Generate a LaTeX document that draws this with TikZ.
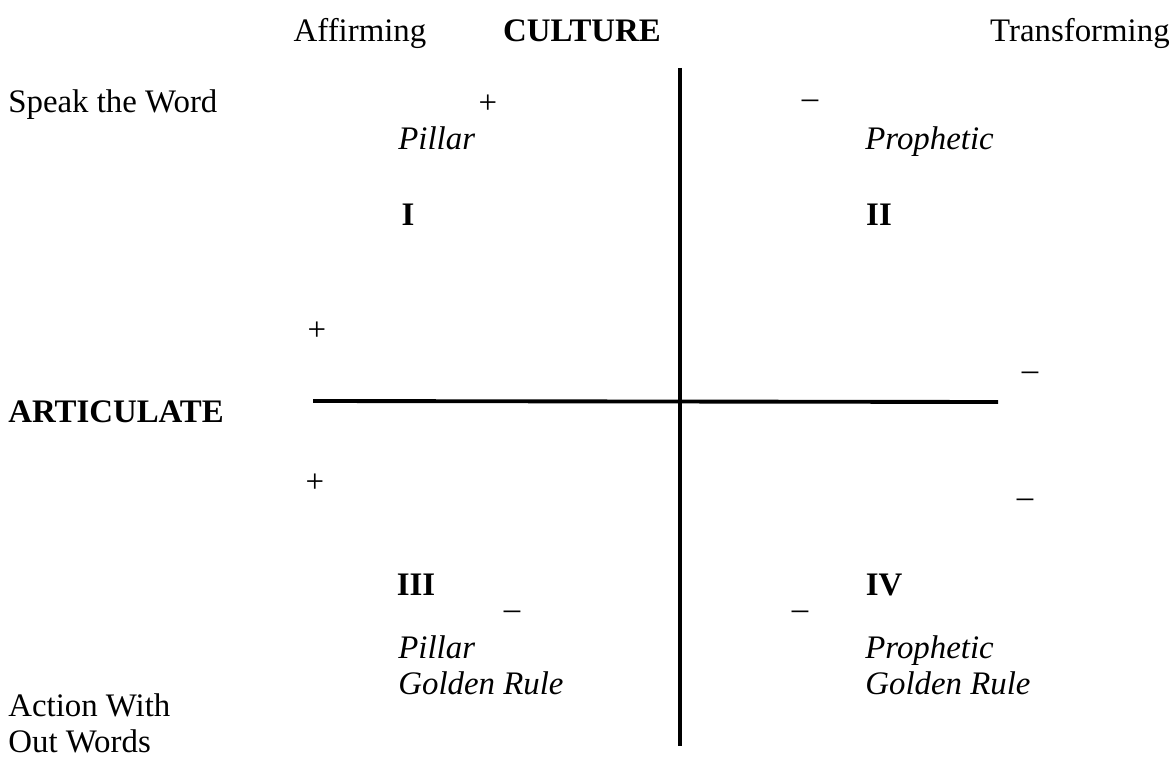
\documentclass[tikz,border=0pt]{standalone}
\usepackage{fontspec}
\setmainfont{Liberation Serif}
\tikzset{
  lbl/.style={anchor=west,inner sep=0pt,font=\fontsize{18.7}{22}\selectfont},
  head/.style={anchor=base,inner sep=0pt,font=\fontsize{18.7}{22}\selectfont},
  quad/.style={inner sep=0pt,font=\fontsize{18.7}{22}\selectfont\bfseries},
  kind/.style={anchor=base west,inner sep=0pt,font=\fontsize{18.7}{22}\selectfont\itshape},
  sgn/.style={inner sep=0pt,font=\fontsize{18.7}{22}\selectfont},
  axis/.style={line width=2.2pt}
}
\begin{document}
\begin{tikzpicture}[x=0.02cm,y=-0.02cm]
    \useasboundingbox (0,0) rectangle (1172,760);

    % Axes of the grid
    \coordinate (top) at (680,68);
    \coordinate (bottom) at (680,746);
    \coordinate (left) at (313,401);
    \coordinate (right) at (998,402);
    \draw[axis] (top) -- (bottom);
    \draw[axis] (left) -- (right);

    % Headings
    \node[head] (affirming) at (360,42) {Affirming};
    \node[head,font=\fontsize{18.7}{22}\selectfont\bfseries] (culture) at (582,42) {CULTURE};
    \node[head,anchor=base east] (transforming) at (1170,42) {Transforming};
    \node[lbl] (speak) at (8,105) {Speak the Word};
    \node[lbl,font=\fontsize{18.7}{22}\selectfont\bfseries] (articulate) at (8,412) {ARTICULATE};
    \node[lbl] (action) at (8,705) {Action With};
    \node[lbl] (outwords) at (8,741) {Out Words};

    % Quadrant names
    \node[kind] (pillar) at (398,150) {Pillar};
    \node[kind] (prophetic) at (865,150) {Prophetic};
    \node[kind] (pillarb) at (398,658) {Pillar};
    \node[kind] (goldena) at (398,694) {Golden Rule};
    \node[kind] (propheticb) at (865,658) {Prophetic};
    \node[kind] (goldenb) at (865,694) {Golden Rule};

    % Quadrant numbers
    \node[quad] (one) at (408,215) {I};
    \node[quad] (two) at (879,215) {II};
    \node[quad] (three) at (416,585) {III};
    \node[quad] (four) at (884,585) {IV};

    % Signs
    \node[sgn] (p1) at (488,104) {+};
    \node[sgn] (m1) at (810,104) {--};
    \node[sgn] (p2) at (317,331) {+};
    \node[sgn] (m2) at (1030,376) {--};
    \node[sgn] (p3) at (315,483) {+};
    \node[sgn] (m3) at (1025,503) {--};
    \node[sgn] (m4) at (512,615) {--};
    \node[sgn] (m5) at (800,615) {--};
\end{tikzpicture}
\end{document}
